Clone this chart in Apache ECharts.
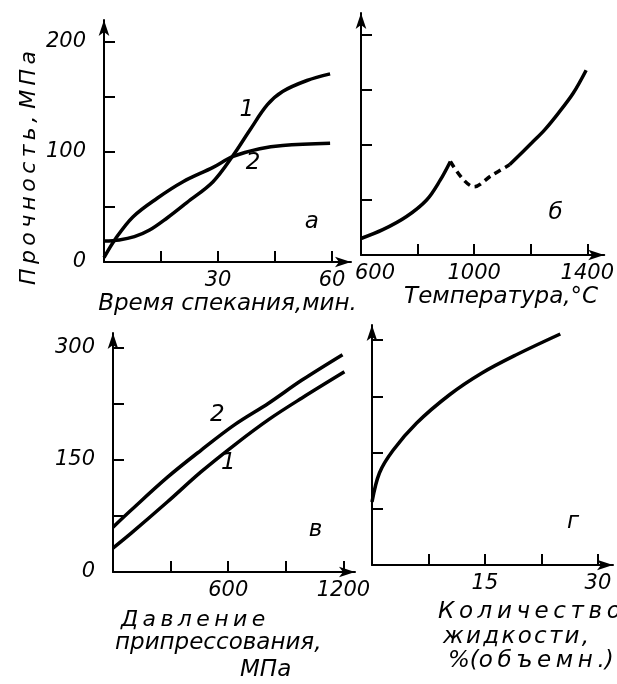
<!DOCTYPE html>
<html>
<head>
<meta charset="utf-8">
<script src="https://cdn.jsdelivr.net/npm/echarts@6/dist/echarts.min.js"></script>
<style>
html, body { margin: 0; padding: 0; background: #fff; }
#chart { width: 617px; height: 684px; }
</style>
</head>
<body>
<div id="chart"></div>
<script>
// а: время спекания (мин) -> прочность (МПа)
const timeCurve1 = [[0,19],[4,20],[8,23],[12,29],[16.6,40],[21.8,54],[28.7,73],[34,97],[38.4,120],[43,143],[47,155],[53.4,165],[59.5,171]]
const timeCurve2 = [[0,4],[3,21],[7.6,41],[14,58],[20.8,73],[28.7,86],[34,96],[41,103],[47,106],[59.5,108]]
// б: температура (°С), провал между 916 и 1125 показан штрихом
const tempSolid1 = [[600,15],[677,23],[761,35],[832,50],[880,68],[916,85]]
const tempDashed = [[916,85],[1000,62],[1060,72],[1125,82]]
const tempSolid2 = [[1125,82],[1204,102],[1250,114],[1298,129],[1350,147],[1396,168]]
// в: давление припрессования (МПа)
const pressCurve1 = [[0,32],[95,52],[284,94],[458,134],[632,170],[810,204],[984,233],[1205,268]]
const pressCurve2 = [[0,60],[95,83],[284,127],[458,163],[632,197],[810,226],[984,257],[1195,291]]
// г: количество жидкости, % (объемн.)
const liquidCurve = [[0,84],[1,123],[2.8,153],[5.9,189],[10.3,227],[14.6,256],[19.1,280],[25,308]]

// ticks / labels
const timeTicks = [15, 30, 45, 60], timeLabels = [30, 60]
const tempTicks = [800, 1000, 1200, 1400], tempLabels = [600, 1000, 1400]
const pressTicks = [300, 600, 900, 1200], pressLabels = [600, 1200]
const liquidTicks = [7.5, 15, 22.5, 30], liquidLabels = [15, 30]
const strengthTopTicks = [50, 100, 150, 200], strengthTopLabels = [0, 100, 200]
const strengthBotTicks = [75, 150, 225, 300], strengthBotLabels = [0, 150, 300]

// подписи кривых и панелей
const curveTags = [
  {grid: 0, value: [37.6, 138], name: '1'},
  {grid: 0, value: [39.2, 90], name: '2'},
  {grid: 0, value: [54.7, 36], name: 'а'},
  {grid: 1, value: [1288, 38], name: 'б'},
  {grid: 2, value: [543, 210], name: '2'},
  {grid: 2, value: [600, 146], name: '1'},
  {grid: 2, value: [1054, 56], name: 'в'},
  {grid: 3, value: [26.7, 57], name: 'г'}
]

const FONT = 'DejaVu Sans'
const TS = '\u2009' // узкий пробел для разрядки букв
const HS = '\u200a'
const txt = {color: '#000', fontFamily: FONT, fontStyle: 'italic', fontSize: 21}
const nameTxt = Object.assign({}, txt, {fontSize: 23})

function xAx(idx, min, max, ticks, labels, extra) {
  return Object.assign({
    gridIndex: idx, type: 'value', min: min, max: max,
    splitLine: {show: false},
    axisLine: {show: true, lineStyle: {color: '#000', width: 2}, symbol: ['none', 'arrow'], symbolSize: [8, 16]},
    axisTick: {show: true, inside: true, length: 11, lineStyle: {color: '#000', width: 2}, customValues: ticks},
    axisLabel: Object.assign({margin: 8, customValues: labels, formatter: v => String(v)}, txt),
    nameTextStyle: nameTxt
  }, extra || {})
}
function yAx(idx, max, ticks, labels) {
  return {
    gridIndex: idx, type: 'value', min: 0, max: max,
    splitLine: {show: false},
    axisLine: {show: true, lineStyle: {color: '#000', width: 2}, symbol: ['none', 'arrow'], symbolSize: [8, 16]},
    axisTick: {show: true, inside: true, length: 11, lineStyle: {color: '#000', width: 2}, customValues: ticks},
    axisLabel: Object.assign({show: labels.length > 0, margin: 18, customValues: labels}, txt)
  }
}
function curve(idx, data, dashed) {
  return {
    type: 'line', xAxisIndex: idx, yAxisIndex: idx, data: data,
    smooth: 0.35, showSymbol: false, silent: true,
    lineStyle: {color: '#000', width: 3.5, type: dashed ? [7, 5] : 'solid'}
  }
}
function label(text, x, y, size) {
  return {type: 'text', x: x, y: y,
    style: {text: text, fill: '#000', font: 'italic ' + (size || 23) + 'px ' + FONT, verticalAlign: 'middle'}}
}
const spaced = (s, sp) => s.split('').join(sp || TS)

const chart = echarts.init(document.getElementById('chart'))
const tagSeries = [0, 1, 2, 3].map(g => ({
  type: 'scatter', xAxisIndex: g, yAxisIndex: g, symbolSize: 0, silent: true,
  itemStyle: {opacity: 1},
  data: curveTags.filter(t => t.grid === g).map(t => ({value: t.value, name: t.name})),
  label: Object.assign({show: true, position: 'inside', formatter: '{b}', opacity: 1}, txt, {fontSize: 23})
}))

chart.setOption({
  backgroundColor: '#fff',
  animation: false,
  grid: [
    {left: 104, top: 20, width: 247, height: 242},
    {left: 361, top: 13, width: 245, height: 242},
    {left: 113, top: 333, width: 242, height: 239},
    {left: 372, top: 325, width: 241, height: 240}
  ],
  xAxis: [
    xAx(0, 0, 65, timeTicks, timeLabels, {name: 'Время спекания,мин.', nameLocation: 'middle', nameGap: 31}),
    xAx(1, 600, 1460, tempTicks, tempLabels, {name: 'Температура,°С', nameLocation: 'middle', nameGap: 31,
      nameTextStyle: Object.assign({}, nameTxt, {padding: [0, 0, 0, 37]}),
      axisLabel: Object.assign({margin: 8, customValues: tempLabels,
        formatter: v => v === 600 ? '{s|600}' : String(v),
        rich: {s: Object.assign({}, txt, {padding: [0, 0, 0, 28]})}}, txt)}),
    xAx(2, 0, 1260, pressTicks, pressLabels),
    xAx(3, 0, 32, liquidTicks, liquidLabels)
  ],
  yAxis: [
    yAx(0, 220, strengthTopTicks, strengthTopLabels),
    yAx(1, 220, strengthTopTicks, []),
    yAx(2, 320, strengthBotTicks, strengthBotLabels),
    yAx(3, 320, strengthBotTicks, [])
  ],
  graphic: [
    {type: 'text', x: 29, y: 168, rotation: Math.PI / 2,
      style: {text: spaced('Прочность,') + ' ' + spaced('МПа'), fill: '#000',
        font: 'italic 22px ' + FONT, align: 'center', verticalAlign: 'middle'}},
    label(spaced('Давление'), 121, 620, 22),
    label('припрессования,', 115, 643),
    label('МПа', 240, 670),
    label(spaced('Количество'), 438, 612),
    label(spaced('жидкости,', HS), 443, 637),
    label('%(' + spaced('объемн.') + ')', 448, 661)
  ],
  series: [
    curve(0, timeCurve1), curve(0, timeCurve2),
    curve(1, tempSolid1), curve(1, tempDashed, true), curve(1, tempSolid2),
    curve(2, pressCurve1), curve(2, pressCurve2),
    curve(3, liquidCurve)
  ].concat(tagSeries)
})
</script>
</body>
</html>
